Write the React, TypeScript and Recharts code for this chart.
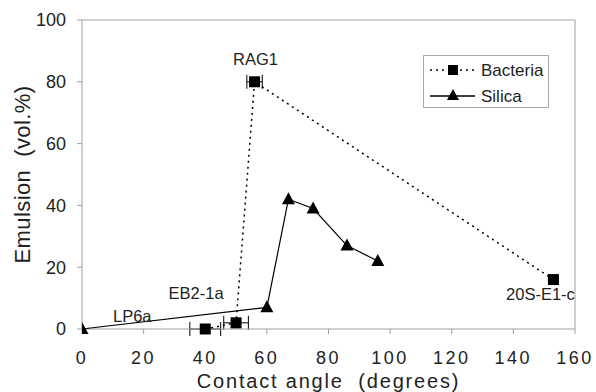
import React from 'react';
import {
  ScatterChart,
  Scatter,
  XAxis,
  YAxis,
  ErrorBar,
  LabelList,
  ReferenceLine,
} from 'recharts';

const bacteriaAngle = [40, 50, 56, 153];
const bacteriaEmulsion = [0, 2, 80, 16];
const bacteriaAngleErr = [5, 4, 2.5, 0];
const bacteriaNames = ['LP6a', 'EB2-1a', 'RAG1', '20S-E1-c'];

const silicaAngle = [0, 60, 67, 75, 86, 96];
const silicaEmulsion = [0, 7, 42, 39, 27, 22];

const xTicks = [0, 20, 40, 60, 80, 100, 120, 140, 160];
const yTicks = [0, 20, 40, 60, 80, 100];

const bacteria = bacteriaAngle.map((x, i) => ({
  x,
  y: bacteriaEmulsion[i],
  err: bacteriaAngleErr[i],
  name: bacteriaNames[i],
}));
const silica = silicaAngle.map((x, i) => ({ x, y: silicaEmulsion[i] }));

// label offsets from the point, in px
const labelShift: Record<string, [number, number]> = {
  LP6a: [-73, -13],
  'EB2-1a': [-40, -30],
  RAG1: [1, -23],
  '20S-E1-c': [-13, 14],
};

const FONT = '"Liberation Sans", Arial, sans-serif';
const AXIS = '#a0a0a0';
const TEXT = '#222';

const Square = (p: any) => (
  <rect x={p.cx - 5.5} y={p.cy - 5.5} width={11} height={11} fill="#000" />
);
const Triangle = (p: any) => (
  <polygon
    points={`${p.cx},${p.cy - 7} ${p.cx - 6.5},${p.cy + 5} ${p.cx + 6.5},${p.cy + 5}`}
    fill="#000"
  />
);

const PointLabel = (p: any) => {
  const [dx, dy] = labelShift[p.value] || [0, 0];
  return (
    <text
      x={p.x + p.width / 2 + dx}
      y={p.y + p.height / 2 + dy}
      textAnchor="middle"
      dominantBaseline="central"
      fontSize={16.5}
      fontFamily={FONT}
      fill={TEXT}
    >
      {p.value}
    </text>
  );
};

const LegendBox = () => (
  <div
    style={{
      position: 'absolute',
      left: 423,
      top: 55,
      width: 126,
      height: 53,
      border: '1px solid #aaa',
      background: '#fff',
      fontFamily: FONT,
      color: TEXT,
      boxSizing: 'border-box',
    }}
  >
    <svg width={124} height={51} style={{ display: 'block' }}>
      <line x1={6} x2={51} y1={14} y2={14} stroke="#000" strokeWidth={1.5} strokeDasharray="2 4" />
      <rect x={24} y={9} width={10} height={10} fill="#000" />
      <text x={57} y={14} dominantBaseline="central" fontSize={17} fill={TEXT}>
        Bacteria
      </text>
      <line x1={6} x2={51} y1={40} y2={40} stroke="#000" strokeWidth={1.5} />
      <polygon points="29,33 23,44 35,44" fill="#000" />
      <text x={57} y={40} dominantBaseline="central" fontSize={17} fill={TEXT}>
        Silica
      </text>
    </svg>
  </div>
);

export default function App() {
  return (
    <div style={{ position: 'absolute', left: 0, top: 0, width: 596, height: 392, background: '#fff' }}>
      <ScatterChart
        width={596}
        height={392}
        margin={{ top: 20, right: 21, bottom: 0, left: 0 }}
      >
        <XAxis
          type="number"
          dataKey="x"
          domain={[0, 160]}
          ticks={xTicks}
          allowDataOverflow
          height={63}
          stroke={AXIS}
          tickSize={5}
          tickMargin={17}
          tick={{ fill: TEXT, fontSize: 18, fontFamily: FONT, letterSpacing: 2.5 }}
          label={{
            value: 'Contact angle\u00a0\u00a0(degrees)',
            position: 'insideBottom',
            offset: 4,
            fill: TEXT,
            fontSize: 20,
            fontFamily: FONT,
            letterSpacing: 1.8,
          }}
        />
        <YAxis
          type="number"
          dataKey="y"
          domain={[0, 100]}
          ticks={yTicks}
          width={82}
          stroke={AXIS}
          tickSize={5}
          tickMargin={11}
          tick={{ fill: TEXT, fontSize: 18, fontFamily: FONT }}
          label={{
            value: 'Emulsion\u00a0\u00a0(vol.%)',
            angle: -90,
            position: 'insideLeft',
            offset: 22,
            fill: TEXT,
            fontSize: 22,
            fontFamily: FONT,
            letterSpacing: 0.4,
            style: { textAnchor: 'middle' },
          }}
        />
        <ReferenceLine y={100} stroke={AXIS} />
        <ReferenceLine x={160} stroke={AXIS} />
        <Scatter
          name="Bacteria"
          data={bacteria}
          shape={<Square />}
          line={{ stroke: '#000', strokeWidth: 1.5, strokeDasharray: '2 4' }}
          isAnimationActive={false}
        >
          <ErrorBar dataKey="err" direction="x" width={7} stroke="#000" strokeWidth={1} />
          <LabelList dataKey="name" content={<PointLabel />} />
        </Scatter>
        <Scatter
          name="Silica"
          data={silica}
          shape={<Triangle />}
          line={{ stroke: '#000', strokeWidth: 1.2 }}
          isAnimationActive={false}
        />
      </ScatterChart>
      <LegendBox />
    </div>
  );
}
